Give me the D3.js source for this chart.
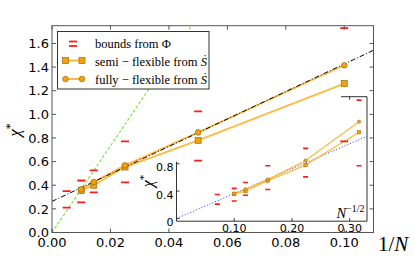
<!DOCTYPE html>
<html><head><meta charset="utf-8">
<script src="https://cdn.jsdelivr.net/npm/d3@7"></script>
<style>html,body{margin:0;padding:0;background:#fff;}svg{display:block;}</style>
</head><body>
<script>
// ---------- data ----------
const invN        = [0.01, 0.01429, 0.025, 0.05, 0.1];
const semiFlex    = [0.356, 0.40, 0.554, 0.78, 1.26];
const fullyFlex   = [0.365, 0.427, 0.568, 0.847, 1.415];
const boundsX     = [0.005, 0.01, 0.01429, 0.025, 0.05, 0.1];
const boundsUpper = [0.35, 0.44, 0.525, 0.771, 1.025, 1.73];
const boundsLower = [0.21, 0.255, 0.339, 0.424, 0.608, 0.771];
const fitX        = [0, 0.11];
const fitY        = [0.263, 1.542];
const greenX      = [0, 0.11];
const greenY      = [0, 4.03];
const xTicks      = [0.00, 0.02, 0.04, 0.06, 0.08, 0.10];
const yTicks      = [0.0, 0.2, 0.4, 0.6, 0.8, 1.0, 1.2, 1.4, 1.6];
// inset (x = N^-1/2)
const insetX       = [0.1, 0.1195, 0.1581, 0.2236, 0.3162];
const insetBoundsX = [0.0707, 0.1, 0.1195, 0.1581, 0.2236, 0.3162];
const blueX        = [0, 0.33];
const blueY        = [0, 1.2];
const insetXTicks  = [0.1, 0.2, 0.3];
const insetYTicks  = [0, 0.4, 0.8];
const legendLabels = ["bounds from \u03A6", "semi \u2212 flexible from ", "fully \u2212 flexible from "];

// ---------- setup ----------
const W = 415, H = 260;
const svg = d3.select("body").append("svg").attr("width", W).attr("height", H);
const x = d3.scaleLinear().domain([0, 0.11]).range([52, 373.5]);
const y = d3.scaleLinear().domain([0, 1.75]).range([232.5, 25.7]);
const xi = d3.scaleLinear().domain([0, 0.33]).range([176.5, 367]);
const yi = d3.scaleLinear().domain([-0.04, 1.78]).range([221.2, 96.7]);

const ORANGE_LINE = "#ffb22e", ORANGE_FILL = "#f4a20c", ORANGE_EDGE = "#9a6a10";
const RED = "#ff1a1a";
const serif = "'Liberation Serif', 'DejaVu Serif', serif";
const sans = "'DejaVu Sans', sans-serif";

const defs = svg.append("defs");
defs.append("clipPath").attr("id", "mainclip").append("rect")
  .attr("x", 52).attr("y", 25.7).attr("width", 321.5).attr("height", 206.8);
defs.append("clipPath").attr("id", "insetclip").append("rect")
  .attr("x", 176.5).attr("y", 96.7).attr("width", 190.5).attr("height", 124.5);

// ---------- inset ----------
const gi = svg.append("g");
gi.append("line").attr("x1", xi(0)).attr("x2", xi(0.33)).attr("y1", yi(-0.04)).attr("y2", yi(-0.04))
  .attr("stroke", "#333").attr("stroke-width", 1);
gi.append("line").attr("x1", xi(0.33)).attr("x2", xi(0.33)).attr("y1", yi(-0.04)).attr("y2", yi(1.78))
  .attr("stroke", "#333").attr("stroke-width", 1);
gi.append("line").attr("x1", xi(0)).attr("x2", xi(0)).attr("y1", yi(-0.04)).attr("y2", yi(0.83))
  .attr("stroke", "#333").attr("stroke-width", 1);
gi.append("line").attr("x1", xi(0.285)).attr("x2", xi(0.33)).attr("y1", yi(1.78)).attr("y2", yi(1.78))
  .attr("stroke", "#333").attr("stroke-width", 1);
insetXTicks.forEach(t => {
  gi.append("line").attr("x1", xi(t)).attr("x2", xi(t)).attr("y1", yi(-0.04)).attr("y2", yi(-0.04) - 3)
    .attr("stroke", "#333");
  gi.append("text").attr("x", xi(t)).attr("y", 231.5).attr("text-anchor", "middle")
    .attr("font-family", sans).attr("font-size", 11).attr("fill", "#000").text(t.toFixed(2));
});
gi.append("line").attr("x1", xi(0.3)).attr("x2", xi(0.3)).attr("y1", yi(1.78)).attr("y2", yi(1.78) + 3).attr("stroke", "#333");
insetYTicks.forEach(t => {
  gi.append("line").attr("x1", xi(0)).attr("x2", xi(0) + 3).attr("y1", yi(t)).attr("y2", yi(t)).attr("stroke", "#333");
  gi.append("text").attr("x", xi(0) - 3).attr("y", yi(t) + 7.5).attr("text-anchor", "end")
    .attr("font-family", sans).attr("font-size", 11).attr("fill", "#000").text(t === 0 ? "0" : t.toFixed(1));
});
const il = gi.append("text").attr("transform", `translate(153,181) rotate(-90)`).attr("text-anchor", "middle")
  .attr("font-family", serif).attr("font-size", 16).attr("fill", "#000");
il.append("tspan").attr("font-style", "italic").text("\u03C7");
il.append("tspan").attr("dy", -6).attr("font-size", 11).text("*");
const nl = gi.append("text").attr("x", 364.5).attr("y", 217.5).attr("text-anchor", "end")
  .attr("font-family", serif).attr("font-size", 14.5).attr("fill", "#000");
nl.append("tspan").attr("font-style", "italic").text("N");
nl.append("tspan").attr("dy", -6).attr("font-size", 10).text("\u22121/2");

const gic = gi.append("g").attr("clip-path", "url(#insetclip)");
gic.append("line").attr("x1", xi(blueX[0])).attr("y1", yi(blueY[0])).attr("x2", xi(blueX[1])).attr("y2", yi(blueY[1]))
  .attr("stroke", "#2233ee").attr("stroke-width", 1).attr("stroke-dasharray", "1,2");
insetBoundsX.forEach((v, i) => {
  [boundsUpper[i], boundsLower[i]].forEach(b => {
    gic.append("line").attr("x1", xi(v) - 2.5).attr("x2", xi(v) + 2.5).attr("y1", yi(b)).attr("y2", yi(b))
      .attr("stroke", RED).attr("stroke-width", 1.6);
  });
});
const lineI = d3.line().x(d => xi(d[0])).y(d => yi(d[1]));
[semiFlex, fullyFlex].forEach(arr => {
  gic.append("path").attr("d", lineI(insetX.map((v, i) => [v, arr[i]])))
    .attr("fill", "none").attr("stroke", ORANGE_LINE).attr("stroke-width", 1.3).attr("opacity", 0.9);
});
insetX.forEach((v, i) => {
  gic.append("rect").attr("x", xi(v) - 1.7).attr("y", yi(semiFlex[i]) - 1.7).attr("width", 3.4).attr("height", 3.4)
    .attr("fill", ORANGE_FILL).attr("stroke", ORANGE_EDGE).attr("stroke-width", 0.5);
  gic.append("circle").attr("cx", xi(v)).attr("cy", yi(fullyFlex[i])).attr("r", 1.7)
    .attr("fill", ORANGE_FILL).attr("stroke", ORANGE_EDGE).attr("stroke-width", 0.5);
});

// ---------- main axes ----------
const g = svg.append("g");
const gc = g.append("g").attr("clip-path", "url(#mainclip)");
gc.append("line").attr("x1", x(greenX[0])).attr("y1", y(greenY[0])).attr("x2", x(greenX[1])).attr("y2", y(greenY[1]))
  .attr("stroke", "#7de03a").attr("stroke-width", 1.1).attr("stroke-dasharray", "3,2");
boundsX.forEach((v, i) => {
  [boundsUpper[i], boundsLower[i]].forEach(b => {
    gc.append("line").attr("x1", x(v) - 4).attr("x2", x(v) + 4).attr("y1", y(b)).attr("y2", y(b))
      .attr("stroke", RED).attr("stroke-width", 1.8);
  });
});
const lineM = d3.line().x(d => x(d[0])).y(d => y(d[1]));
[semiFlex, fullyFlex].forEach(arr => {
  gc.append("path").attr("d", lineM(invN.map((v, i) => [v, arr[i]])))
    .attr("fill", "none").attr("stroke", ORANGE_LINE).attr("stroke-width", 1.8).attr("opacity", 0.9);
});
gc.append("line").attr("x1", x(fitX[0])).attr("y1", y(fitY[0])).attr("x2", x(fitX[1])).attr("y2", y(fitY[1]))
  .attr("stroke", "#000").attr("stroke-width", 1).attr("stroke-dasharray", "5,2,1,2");
invN.forEach((v, i) => {
  gc.append("rect").attr("x", x(v) - 3).attr("y", y(semiFlex[i]) - 3).attr("width", 6).attr("height", 6)
    .attr("fill", ORANGE_FILL).attr("stroke", ORANGE_EDGE).attr("stroke-width", 0.7);
  gc.append("circle").attr("cx", x(v)).attr("cy", y(fullyFlex[i])).attr("r", 2.8)
    .attr("fill", ORANGE_FILL).attr("stroke", ORANGE_EDGE).attr("stroke-width", 0.7);
});

g.append("rect").attr("x", 52).attr("y", 25.7).attr("width", 321.5).attr("height", 206.8)
  .attr("fill", "none").attr("stroke", "#555").attr("stroke-width", 1);
xTicks.forEach(t => {
  g.append("line").attr("x1", x(t)).attr("x2", x(t)).attr("y1", 232.5).attr("y2", 228.5).attr("stroke", "#555");
  g.append("line").attr("x1", x(t)).attr("x2", x(t)).attr("y1", 25.7).attr("y2", 29.7).attr("stroke", "#555");
  g.append("text").attr("x", x(t)).attr("y", 246.5).attr("text-anchor", "middle")
    .attr("font-family", sans).attr("font-size", 13).attr("fill", "#000").text(t.toFixed(2));
});
yTicks.forEach(t => {
  g.append("line").attr("x1", 52).attr("x2", 56).attr("y1", y(t)).attr("y2", y(t)).attr("stroke", "#555");
  g.append("line").attr("x1", 373.5).attr("x2", 369.5).attr("y1", y(t)).attr("y2", y(t)).attr("stroke", "#555");
  g.append("text").attr("x", 49).attr("y", y(t) + 4.7).attr("text-anchor", "end")
    .attr("font-family", sans).attr("font-size", 13).attr("fill", "#000").text(t.toFixed(1));
});
const yl = g.append("text").attr("transform", "translate(20,130) rotate(-90)").attr("text-anchor", "middle")
  .attr("font-family", serif).attr("font-size", 17).attr("fill", "#000");
yl.append("tspan").attr("font-style", "italic").text("\u03C7");
yl.append("tspan").attr("dy", -6).attr("font-size", 12).text("*");
const xl = g.append("text").attr("x", 378).attr("y", 251).attr("font-family", serif).attr("font-size", 21).attr("fill", "#000");
xl.append("tspan").text("1/");
xl.append("tspan").attr("font-style", "italic").text("N");

// ---------- legend ----------
const lg = svg.append("g");
lg.append("rect").attr("x", 57.5).attr("y", 31.5).attr("width", 151.5).attr("height", 57.5)
  .attr("fill", "#fff").attr("stroke", "#333").attr("stroke-width", 1);
[41.5, 46].forEach(yy => lg.append("line").attr("x1", 69).attr("x2", 77).attr("y1", yy).attr("y2", yy)
  .attr("stroke", RED).attr("stroke-width", 1.8));
[60.5, 79].forEach((yy, k) => {
  lg.append("line").attr("x1", 65.5).attr("x2", 82).attr("y1", yy).attr("y2", yy)
    .attr("stroke", ORANGE_LINE).attr("stroke-width", 1.8);
  [65.5, 82].forEach(xx => {
    if (k === 0) lg.append("rect").attr("x", xx - 3).attr("y", yy - 3).attr("width", 6).attr("height", 6)
      .attr("fill", ORANGE_FILL).attr("stroke", ORANGE_EDGE).attr("stroke-width", 0.7);
    else lg.append("circle").attr("cx", xx).attr("cy", yy).attr("r", 2.8)
      .attr("fill", ORANGE_FILL).attr("stroke", ORANGE_EDGE).attr("stroke-width", 0.7);
  });
});
[47.5, 65.5, 84].forEach((yy, k) => {
  const t = lg.append("text").attr("x", 95).attr("y", yy).attr("font-family", serif).attr("font-size", 12.5).attr("fill", "#000");
  t.append("tspan").text(legendLabels[k]);
  if (k > 0) t.append("tspan").attr("font-style", "italic").text("\u1E60");
});
</script>
</body></html>
